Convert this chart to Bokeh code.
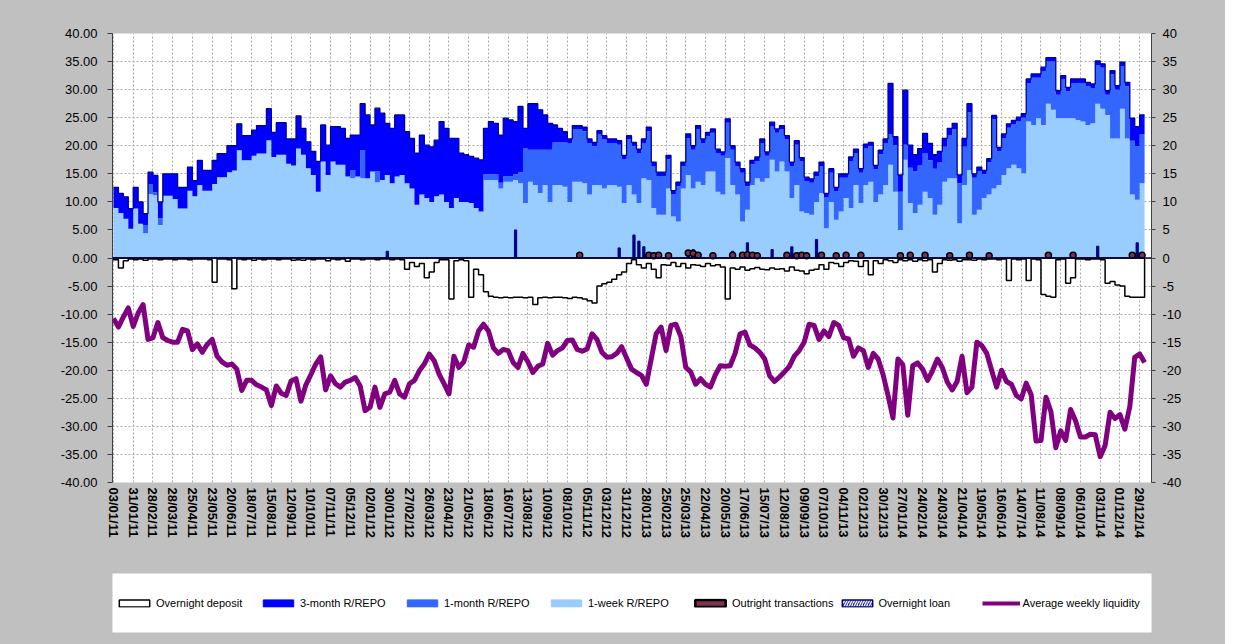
import numpy as np
from bokeh.plotting import figure
from bokeh.layouts import column
from bokeh.models import (Range1d, LinearAxis, FixedTicker, PrintfTickFormatter,
                          Legend, LegendItem, Span)
from bokeh.embed import file_html
from bokeh.resources import INLINE

# ---------------- data (weekly, 03/01/11 .. 29/12/14) ----------------
tick_labels = [
    "03/01/11", "31/01/11", "28/02/11", "28/03/11", "25/04/11", "23/05/11", "20/06/11",
    "18/07/11", "15/08/11", "12/09/11", "10/10/11", "07/11/11", "05/12/11",
    "02/01/12", "30/01/12", "27/02/12", "26/03/12", "23/04/12", "21/05/12", "18/06/12",
    "16/07/12", "13/08/12", "10/09/12", "08/10/12", "05/11/12", "03/12/12", "31/12/12",
    "28/01/13", "25/02/13", "25/03/13", "22/04/13", "20/05/13", "17/06/13", "15/07/13",
    "12/08/13", "09/09/13", "07/10/13", "04/11/13", "02/12/13", "30/12/13",
    "27/01/14", "24/02/14", "24/03/14", "21/04/14", "19/05/14", "16/06/14", "14/07/14",
    "11/08/14", "08/09/14", "06/10/14", "03/11/14", "01/12/14", "29/12/14"]

series_names = ["Overnight deposit", "3-month R/REPO", "1-month R/REPO", "1-week R/REPO",
                "Outright transactions", "Overnight loan", "Average weekly liquidity"]

one_week = [
    8.9, 8.0, 7.0, 5.2, 8.8, 6.1, 4.4, 11.4, 11.2, 5.9,
    11.1, 11.1, 10.5, 8.8, 8.8, 12.0, 11.0, 13.0, 12.0, 12.0,
    13.2, 14.4, 14.4, 15.3, 15.6, 19.2, 17.4, 17.4, 18.2, 18.6,
    18.6, 21.0, 18.0, 18.4, 18.4, 16.8, 16.5, 19.5, 18.4, 16.0,
    14.8, 11.8, 17.2, 14.8, 17.2, 16.6, 16.6, 14.5, 14.2, 14.5,
    14.2, 14.2, 15.4, 13.5, 13.9, 14.8, 13.3, 14.5, 14.8, 13.3,
    12.4, 9.5, 11.3, 10.7, 10.0, 11.0, 11.3, 10.0, 8.9, 10.7,
    10.0, 10.0, 9.8, 8.9, 8.3, 13.9, 13.9, 13.9, 12.4, 13.6,
    13.6, 13.9, 13.3, 9.8, 13.6, 13.0, 11.6, 13.0, 10.0, 13.0,
    13.0, 12.7, 10.0, 13.6, 13.6, 13.3, 11.3, 13.0, 13.0, 12.4,
    13.0, 13.0, 12.7, 9.8, 13.0, 11.3, 9.8, 14.2, 13.9, 8.9,
    7.7, 7.7, 12.4, 7.4, 6.5, 12.4, 14.8, 12.4, 13.6, 13.0,
    15.4, 15.4, 11.8, 11.3, 17.8, 13.0, 11.3, 6.5, 8.6, 13.0,
    14.2, 13.6, 14.2, 17.5, 15.4, 17.2, 15.4, 10.7, 13.0, 8.3,
    8.0, 7.7, 10.0, 11.6, 5.3, 10.0, 6.8, 8.3, 10.7, 8.9,
    13.0, 9.8, 13.0, 13.6, 10.0, 11.3, 13.0, 16.6, 11.8, 5.0,
    17.5, 9.8, 8.0, 9.5, 11.8, 10.7, 7.7, 9.5, 13.6, 14.2,
    14.2, 6.2, 13.0, 15.7, 7.7, 8.6, 10.7, 11.3, 12.4, 13.0,
    14.8, 16.0, 16.6, 16.0, 15.1, 24.3, 23.7, 24.9, 23.7, 27.5,
    26.4, 24.9, 24.9, 24.9, 24.9, 24.6, 24.3, 23.7, 24.0, 27.5,
    26.6, 25.5, 21.3, 21.3, 26.6, 21.3, 11.3, 10.4, 13.3]

one_month = [
    0, 0, 0, 0, 0, 0, 1.5, 1.8, 0.5, 1.2,
    0, 0, 0, 0, 0, 0, 0, 0, 0, 0,
    0, 0, 0, 0, 0, 0, 0, 0, 0, 0,
    0, 0, 0, 0, 0, 0, 0, 0, 0, 0,
    0, 0, 0, 0, 0, 0, 0, 0, 1.5, 0,
    5.0, 0, 0, 2.0, 0, 0, 0, 0, 0, 0,
    0, 0, 0, 0, 0, 0, 0, 0, 0, 0,
    0, 0, 0, 0, 0, 1.0, 1.0, 1.0, 1.0, 1.0,
    1.0, 1.0, 2.0, 9.7, 5.7, 6.3, 7.7, 6.3, 9.3, 7.6,
    7.6, 7.9, 10.5, 9.3, 9.3, 9.3, 9.2, 6.9, 9.0, 8.7,
    7.5, 7.5, 7.5, 7.8, 8.1, 8.6, 8.9, 6.3, 8.7, 7.5,
    6.9, 6.9, 5.2, 3.9, 6.3, 4.0, 6.6, 6.9, 9.3, 7.5,
    6.3, 6.9, 6.9, 6.9, 6.3, 6.3, 5.1, 8.7, 4.2, 3.7,
    3.1, 6.9, 4.0, 6.0, 6.9, 5.7, 5.7, 5.7, 7.2, 8.9,
    5.7, 5.7, 4.6, 4.8, 5.5, 5.2, 5.1, 6.0, 3.6, 8.4,
    5.7, 5.4, 6.6, 6.3, 5.8, 7.2, 7.5, 5.5, 8.3, 6.8,
    2.7, 6.3, 7.4, 7.0, 6.9, 6.7, 8.2, 7.5, 6.2, 7.7,
    8.8, 7.1, 6.8, 10.3, 6.6, 6.9, 4.2, 5.7, 12.3, 6.0,
    6.6, 7.2, 7.2, 8.4, 9.9, 6.9, 8.4, 7.2, 9.6, 7.5,
    8.6, 4.2, 6.9, 4.8, 6.3, 6.6, 6.9, 6.9, 6.3, 6.9,
    7.3, 3.6, 11.4, 8.7, 7.6, 9.3, 9.6, 9.5, 8.7]

three_month = [
    3.7, 3.5, 3.9, 3.6, 3.8, 3.9, 2.0, 2.1, 3.0, 2.9,
    3.9, 3.9, 4.5, 3.8, 3.8, 4.2, 2.8, 4.4, 3.6, 3.6,
    4.2, 4.2, 4.2, 4.7, 4.4, 4.7, 4.4, 4.4, 4.6, 5.0,
    5.0, 5.6, 4.4, 5.7, 5.7, 4.4, 4.7, 5.8, 4.7, 4.7,
    4.2, 5.4, 6.5, 5.3, 6.2, 6.8, 6.5, 6.8, 6.2, 7.4,
    8.3, 11.3, 8.3, 11.2, 11.9, 9.2, 9.8, 11.0, 10.7, 9.2,
    8.9, 9.2, 10.6, 9.4, 9.8, 10.0, 13.0, 13.1, 12.4, 10.6,
    8.7, 8.4, 8.3, 8.9, 9.2, 8.2, 9.4, 9.1, 8.5, 10.3,
    10.0, 9.4, 11.7, 3.6, 8.2, 8.2, 7.1, 6.2, 4.7, 3.1,
    2.5, 1.9, 0.7, 0.7, 0.7, 0.7, 0.7, 0.7, 0.7, 0.7,
    0.7, 0.7, 0.7, 0.7, 0.7, 0.7, 0.7, 0.7, 0.7, 0.7,
    0.7, 0.7, 0.7, 0.7, 0.7, 0.7, 0.7, 0.7, 0.7, 0.7,
    0.7, 0.7, 0.7, 0.7, 0.7, 0.7, 0.7, 0.7, 0.7, 0.7,
    0.7, 0.7, 0.7, 0.7, 0.7, 0.7, 0.7, 0.7, 0.7, 0.7,
    0.7, 0.7, 0.7, 0.7, 0.7, 0.7, 0.7, 0.7, 0.7, 0.7,
    0.7, 0.7, 0.7, 0.7, 0.7, 0.7, 0.7, 9.0, 1.5, 3.0,
    9.7, 4.0, 3.0, 3.0, 3.5, 3.0, 2.5, 2.0, 1.5, 1.2,
    1.0, 1.5, 1.5, 1.5, 0.7, 0.7, 0.7, 0.7, 0.7, 0.7,
    0.7, 0.7, 0.7, 0.7, 0.7, 0.7, 0.7, 0.7, 0.7, 0.7,
    0.7, 0.7, 0.7, 0.7, 0.7, 0.7, 0.7, 0.7, 0.7, 0.7,
    0.7, 0.7, 0.7, 0.7, 0.7, 0.7, 4.0, 3.5, 3.5]

overnight_deposit = [
    -0.3, -1.8, -0.5, -0.2, -0.3, -0.2, -0.4, -0.2, -0.2, -0.3,
    -0.2, -0.2, -0.3, -0.2, -0.2, -0.3, -0.2, -0.2, -0.2, -0.3,
    -4.3, -0.2, -0.2, -0.3, -5.5, -0.2, -0.3, -0.2, -0.4, -0.2,
    -0.3, -0.2, -0.2, -0.3, -0.2, -0.2, -0.4, -0.3, -0.4, -0.2,
    -0.3, -0.2, -0.2, -0.5, -0.2, -0.3, -0.2, -0.6, -0.2, -0.2,
    -0.3, -0.2, -0.2, -0.3, -0.2, -0.2, -0.3, -0.2, -0.3, -2.0,
    -0.8, -1.5, -1.0, -3.5, -2.5, -0.8, -0.3, -0.3, -7.3, -0.5,
    -0.3, -0.5, -7.0, -2.0, -3.0, -6.0, -6.8, -7.0, -7.1, -7.0,
    -7.1, -7.0, -7.0, -7.1, -7.0, -8.3, -7.1, -7.0, -7.1, -7.0,
    -7.0, -7.1, -7.2, -7.0, -7.1, -7.3, -7.6, -8.0, -5.0, -4.6,
    -4.3, -3.8, -3.0, -2.5, -1.0, -0.3, -1.2, -1.8, -1.0, -2.0,
    -3.5, -1.2, -1.3, -0.8, -1.5, -1.0, -1.8, -1.2, -1.3, -1.5,
    -1.0, -1.4, -1.2, -1.6, -7.3, -1.8, -2.0, -1.6, -2.2, -1.9,
    -1.7, -2.0, -2.1, -1.8, -2.0, -1.9, -2.3, -1.6, -2.2, -2.3,
    -2.8, -2.2, -2.0, -1.2, -2.0, -0.8, -1.0, -1.5, -0.8, -0.5,
    -0.6, -1.5, -0.5, -3.0, -0.5, -1.0, -0.3, -0.5, -0.8, -0.3,
    -0.5, -0.3, -0.6, -0.3, -0.5, -0.3, -2.5, -1.0, -0.3, -0.4,
    -0.3, -0.6, -0.3, -0.3, -0.4, -0.2, -0.3, -0.2, -0.2, -0.3,
    -0.2, -4.0, -0.2, -0.3, -0.2, -4.0, -0.2, -0.3, -6.5, -6.8,
    -7.0, -0.3, -0.2, -4.5, -3.5, -0.2, -0.2, -0.3, -0.2, -0.2,
    -0.3, -4.5, -4.2, -4.8, -5.0, -6.8, -7.0, -7.0, -7.0]

avg_liquidity = [
    -10.8, -12.3, -10.5, -8.9, -12.2, -9.8, -8.3, -14.5, -14.2, -11.5,
    -14.2, -14.7, -15.0, -15.0, -12.7, -13.0, -16.3, -15.3, -16.8, -15.4,
    -14.5, -17.5, -18.5, -19.1, -18.9, -19.8, -23.6, -21.8, -21.8, -22.6,
    -23.0, -23.5, -26.3, -22.8, -24.1, -24.5, -21.9, -21.5, -25.5, -22.6,
    -20.8, -18.9, -17.6, -23.5, -21.0, -22.4, -23.0, -22.1, -21.8, -21.3,
    -22.8, -27.2, -26.6, -23.0, -26.6, -24.2, -23.9, -21.8, -24.2, -24.8,
    -22.4, -21.8, -20.1, -18.9, -17.1, -18.3, -20.7, -22.4, -24.2, -17.5,
    -19.5, -18.5, -15.5, -15.9, -13.0, -11.8, -13.0, -16.0, -17.0, -16.3,
    -16.5, -18.6, -19.5, -17.0, -18.5, -20.4, -19.3, -18.9, -15.2, -17.3,
    -16.5, -16.0, -14.7, -14.6, -16.3, -16.6, -16.2, -13.5, -14.5, -16.8,
    -17.7, -17.6, -17.0, -15.8, -17.8, -19.8, -20.4, -20.9, -22.5, -18.0,
    -13.5, -12.3, -16.5, -12.0, -11.8, -14.0, -19.5, -20.3, -22.5, -21.5,
    -22.5, -23.0, -20.8, -19.2, -19.3, -19.2, -17.0, -13.5, -13.2, -15.5,
    -16.0, -16.8, -18.0, -21.0, -22.0, -21.2, -20.3, -19.3, -17.5, -16.5,
    -15.0, -11.8, -12.0, -14.5, -13.0, -14.0, -11.5, -12.0, -14.2, -14.4,
    -17.5, -16.0, -16.5, -19.5, -17.0, -18.0, -20.8, -24.5, -28.5, -18.0,
    -19.0, -28.0, -19.2, -18.7, -19.8, -21.8, -20.1, -18.0, -19.5, -22.1,
    -23.5, -22.0, -17.5, -24.0, -23.0, -15.0, -15.6, -17.0, -20.0, -23.0,
    -20.0, -22.0, -22.5, -24.5, -25.1, -22.3, -24.3, -32.6, -32.5, -24.8,
    -27.3, -33.8, -30.8, -32.5, -27.0, -29.0, -31.9, -31.9, -31.4, -31.5,
    -35.4, -33.4, -27.5, -28.6, -27.9, -30.5, -26.5, -17.7, -17.1, -18.6]

loan_weeks = [55, 81, 102, 105, 106, 107, 116, 117, 125, 128, 133, 137, 142, 199, 207]
overnight_loan = [1.2, 5.0, 1.8, 4.1, 3.0, 2.0, 1.2, 1.5, 1.2, 2.7, 1.5, 2.0, 3.3, 2.1, 2.7]

outright_weeks = [94, 108, 109, 110, 112, 116, 117, 118, 121, 125, 127, 128, 129, 130, 136,
                  138, 139, 140, 143, 146, 148, 151, 159, 161, 164, 169, 173, 177, 189,
                  194, 206, 208]
outright = [0.5, 0.5, 0.4, 0.5, 0.4, 0.9, 0.8, 0.5, 0.4, 0.5, 0.5, 0.6, 0.5, 0.4, 0.5,
            0.4, 0.5, 0.4, 0.5, 0.4, 0.5, 0.5, 0.4, 0.5, 0.5, 0.4, 0.5, 0.4, 0.5,
            0.5, 0.5, 0.5]

n = len(one_week)
assert len(one_month) == n and len(three_month) == n and len(overnight_deposit) == n

# ---------------- styles ----------------
FONT = "Liberation Sans"
BG = "#C0C0C0"
C_3M, C_1M, C_1W = "#0000FF", "#3366FF", "#99CCFF"
C_OUT = "#803050"
C_LOAN = "#000080"
C_LIQ = "#800080"

# ---------------- derived geometry ----------------
wk = np.arange(n + 1)
def ext(a):
    a = np.asarray(a, dtype=float)
    return np.append(a, a[-1])

lvl1 = ext(one_week)
lvl2 = lvl1 + ext(one_month)
lvl3 = lvl2 + ext(three_month)

dep_x, dep_y = [0.0], [0.0]
for i, v in enumerate(overnight_deposit):
    dep_x += [i, i + 1]
    dep_y += [v, v]
dep_x.append(float(n)); dep_y.append(0.0)

# ---------------- main chart ----------------
p = figure(width=1225, height=560, output_backend="svg", toolbar_location=None,
           x_range=Range1d(-0.2, 210.4), y_range=Range1d(-40, 40),
           min_border_left=112, min_border_right=74, min_border_top=33,
           min_border_bottom=78)
p.border_fill_color = BG
p.background_fill_color = "white"
p.outline_line_color = None

p.xgrid.ticker = FixedTicker(ticks=list(range(0, n, 4)))
p.ygrid.ticker = FixedTicker(ticks=list(range(-40, 41, 5)))
for g in (p.xgrid[0], p.ygrid[0]):
    g.grid_line_color = "#A8A8A8"
    g.grid_line_dash = "2 2"
    g.grid_line_width = 1

ya = p.yaxis[0]
ya.ticker = FixedTicker(ticks=list(range(-40, 41, 5)))
ya.formatter = PrintfTickFormatter(format="%.2f")
ya.major_label_text_font = FONT
ya.major_label_text_font_size = "13px"
ya.major_label_text_color = "black"
ya.axis_line_color = "#404040"
ya.major_tick_line_color = "#404040"
ya.major_tick_out = 5
ya.major_tick_in = 0
ya.minor_tick_line_color = None
ya.major_label_standoff = 10

ra = LinearAxis(ticker=FixedTicker(ticks=list(range(-40, 41, 5))),
                formatter=PrintfTickFormatter(format="%d"))
ra.major_label_text_font = FONT
ra.major_label_text_font_size = "13px"
ra.major_label_text_color = "black"
ra.axis_line_color = "#404040"
ra.major_tick_line_color = "#404040"
ra.major_tick_out = 4
ra.major_tick_in = 0
ra.minor_tick_line_color = None
ra.major_label_standoff = 7
p.add_layout(ra, "right")

xa = p.xaxis[0]
xt = list(range(0, 4 * len(tick_labels), 4))
xa.ticker = FixedTicker(ticks=xt)
xa.major_label_overrides = {t: lab for t, lab in zip(xt, tick_labels)}
xa.major_label_orientation = "vertical"
xa.major_label_text_font = FONT
xa.major_label_text_font_size = "13px"
xa.major_label_text_font_style = "bold"
xa.major_label_text_color = "black"
xa.axis_line_color = None
xa.major_tick_line_color = None
xa.minor_tick_line_color = None
xa.major_tick_out = 0
xa.major_tick_in = 0
xa.major_label_standoff = 5

p.varea_step(x=wk, y1=np.zeros(n + 1), y2=lvl1, step_mode="after", fill_color=C_1W)
p.varea_step(x=wk, y1=lvl1, y2=lvl2, step_mode="after", fill_color=C_1M)
p.varea_step(x=wk, y1=lvl2, y2=lvl3, step_mode="after", fill_color=C_3M)
p.step(x=wk, y=lvl3, mode="after", line_color="#000099", line_width=1.3)

p.patch(dep_x, dep_y, fill_color="white", line_color="black", line_width=1.5)

p.vbar(x=np.array(loan_weeks) + 0.5, top=overnight_loan, bottom=0, width=0.45,
       fill_color=C_LOAN, line_color=C_LOAN, line_width=1)

p.scatter(x=np.array(outright_weeks) + 0.5, y=outright, marker="circle", size=6,
          fill_color=C_OUT, line_color="black", line_width=1.5)

p.add_layout(Span(location=0, dimension="width", line_color="#000033", line_width=1.5))

p.line(x=np.arange(len(avg_liquidity)), y=avg_liquidity, line_color=C_LIQ,
       line_width=5, line_join="round")

# ---------------- legend panel (white box under the chart) ----------------
q = figure(width=1225, height=84, output_backend="svg", toolbar_location=None,
           x_range=Range1d(0, 1), y_range=Range1d(0, 1),
           x_axis_type=None, y_axis_type=None,
           min_border_left=112, min_border_right=74, min_border_top=13,
           min_border_bottom=12)
q.border_fill_color = BG
q.background_fill_color = "white"
q.outline_line_color = None
q.grid.visible = False

# legend proxies: one swatch each, placed outside the visible range
sw = dict(left=[2], right=[3], top=[3], bottom=[2])
g_dep = q.quad(**sw, fill_color="white", line_color="black", line_width=1.5)
g_3m = q.quad(**sw, fill_color=C_3M, line_color=C_3M)
g_1m = q.quad(**sw, fill_color=C_1M, line_color=C_1M)
g_1w = q.quad(**sw, fill_color=C_1W, line_color=C_1W)
g_out = q.quad(**sw, fill_color=C_OUT, line_color="black", line_width=2.5)
g_loan = q.quad(**sw, fill_color=C_LOAN, line_color=C_LOAN, line_width=1.5,
                hatch_pattern="/", hatch_color="white", hatch_scale=5, hatch_weight=1.5)
g_liq = q.line(x=[2, 3], y=[2, 2], line_color=C_LIQ, line_width=4)

legend = Legend(items=[LegendItem(label=lab, renderers=[r]) for lab, r in zip(
    series_names, [g_dep, g_3m, g_1m, g_1w, g_out, g_loan, g_liq])],
    orientation="horizontal", location="left")
legend.glyph_width = 38
legend.glyph_height = 9
legend.label_height = 13
legend.label_width = 99
legend.label_standoff = 3
legend.spacing = 4
legend.padding = 0
legend.margin = 3
legend.label_text_font = FONT
legend.label_text_font_size = "11px"
legend.label_text_color = "black"
legend.background_fill_alpha = 0
legend.border_line_color = None
q.add_layout(legend, "center")

layout = column(p, q, spacing=0, styles={"background-color": BG})
open("out.html", "w").write(file_html(layout, INLINE))
